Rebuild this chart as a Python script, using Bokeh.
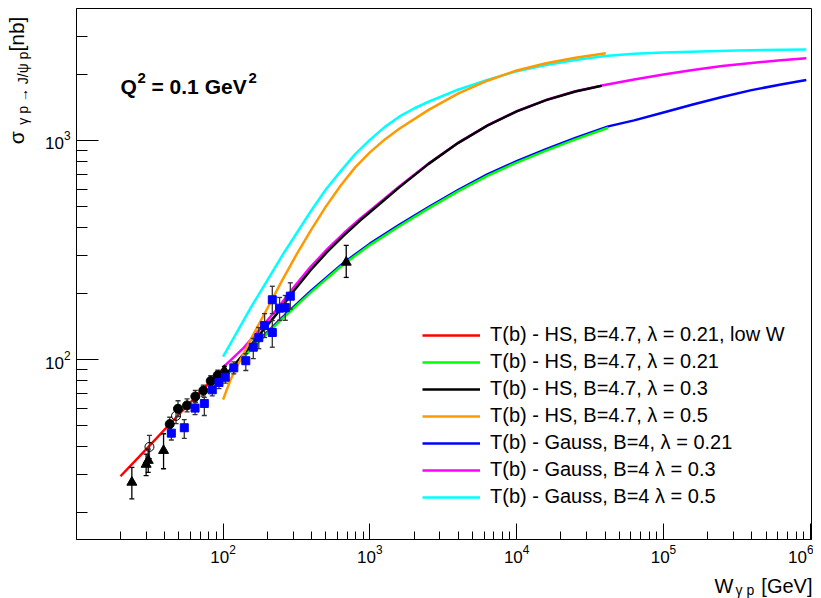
from bokeh.plotting import figure
from bokeh.layouts import row, column
from bokeh.models import Range1d, FixedTicker, Label, Legend, LegendItem
from bokeh.core.properties import value
from bokeh.embed import file_html
from bokeh.resources import INLINE
import math

FONT = "Liberation Sans"

# ---------------- data ----------------
# model curves: W [GeV], sigma [nb]
red_W = [20, 30, 40, 60, 80, 100]
red_s = [29.3, 39.0, 47.9, 63.8, 78.0, 90.5]

green_W = [100, 158, 251, 398, 631, 690, 1000, 1585, 2512, 3981, 6310, 10000, 15850, 25120, 42000]
green_s = [82, 112.7, 153, 203, 265, 278, 333, 406, 490, 586, 690, 793, 899, 1012, 1143]

black_W = [101, 138, 179, 233, 302, 393, 510, 663, 861, 1000, 1585, 2512, 3981, 6310, 10000, 15850, 25120, 38000]
black_s = [83, 106, 131, 162, 205, 255, 309, 368, 432, 470, 611, 782, 973, 1169, 1358, 1528, 1675, 1778]

orange_W = [100, 112, 126, 158, 200, 251, 316, 398, 501, 631, 794, 1000, 1259, 1585, 2512, 3981,
            6310, 10000, 15850, 25120, 40460]
orange_s = [65.6, 80.4, 94.4, 127.4, 171, 228, 301, 391, 499, 622, 754, 883, 1009, 1132, 1380, 1637,
            1875, 2089, 2254, 2388, 2500]

blue_W = [100, 158, 251, 398, 631, 690, 1000, 1585, 2512, 3981, 6310, 10000, 15850, 25120, 42000,
          63100, 100000, 158500, 251200, 398100, 631000, 940000]
blue_s = [83, 114, 155, 206, 269, 282, 338, 412, 497, 594, 700, 805, 912, 1027, 1160,
          1236, 1343, 1459, 1581, 1698, 1803, 1888]

magenta_W = [100, 138, 179, 233, 302, 393, 510, 663, 861, 1000, 1585, 2512, 3981, 6310, 10000, 15850,
             25120, 38000, 63100, 100000, 158500, 251200, 398100, 631000, 940000]
magenta_s = [92, 113, 138, 170, 213, 264, 318, 377, 441, 478, 616, 785, 975, 1171, 1360, 1530,
             1678, 1781, 1901, 2000, 2099, 2188, 2259, 2323, 2377]

cyan_W = [100, 158, 251, 398, 501, 631, 794, 1000, 1259, 1585, 1995, 2512, 3981, 6310, 10000, 15850,
          25120, 39810, 63100, 100000, 316000, 940000]
cyan_s = [103, 177, 296, 478, 597, 723, 867, 1007, 1151, 1285, 1400, 1503, 1706, 1892, 2070, 2213,
          2333, 2432, 2489, 2523, 2576, 2606]

# measurements
tri_W = [23.9, 29.9, 30.9, 39.3, 102, 690]
tri_s = [27.5, 33.2, 34.6, 38.4, 89, 278]
tri_lo = [23.1, 29.5, 30.5, 31.7, 85, 237]
tri_hi = [32.2, 37.0, 39.0, 45.8, 93, 332]

circ_W = [43.3, 49.3, 56.8, 64.7, 73.3, 82.4, 92.0]
circ_s = [50.7, 59.6, 61.7, 67.8, 72.1, 79.8, 84.8]
circ_lo = [47.2, 54.8, 57.6, 63.6, 68.1, 75.5, 80.4]
circ_hi = [54.5, 64.8, 66.1, 72.3, 76.4, 84.4, 89.5]

open_W = [31.5, 47.8]
open_s = [39.9, 55.3]
open_lo = [35.3, 51.0]
open_hi = [45.0, 60.0]

sq_W = [44.4, 54.4, 64.4, 74.5, 84.4, 93.7, 103.5, 118.3, 142.8, 160.6, 175.1, 191.8, 216.4, 216.4, 242.6, 265.3, 287]
sq_s = [46.1, 48.8, 60.0, 63.0, 72.7, 78.5, 83.0, 91.6, 98.7, 113.8, 125.8, 142.9, 132.8, 187.4, 171.5, 172.6, 194.6]
sq_lo = [42.9, 43.6, 56.0, 55.5, 68.2, 73.7, 78.0, 86.0, 89.1, 101, 112, 126, 113.8, 162, 151, 151, 170]
sq_hi = [49.6, 53.2, 64.3, 67.2, 77.5, 83.6, 88.3, 97.5, 106.4, 124.8, 140, 162, 150.6, 216, 192, 196, 224]

legend_labels = [
    "T(b) - HS, B=4.7, \u03bb = 0.21, low W",
    "T(b) - HS, B=4.7, \u03bb = 0.21",
    "T(b) - HS, B=4.7, \u03bb = 0.3",
    "T(b) - HS, B=4.7, \u03bb = 0.5",
    "T(b) - Gauss, B=4, \u03bb = 0.21",
    "T(b) - Gauss, B=4 \u03bb = 0.3",
    "T(b) - Gauss, B=4 \u03bb = 0.5",
]

x_major = [1e2, 1e3, 1e4, 1e5, 1e6]
x_minor = [m * 10 ** k for k in range(1, 6) for m in range(2, 10)]
y_major = [1e2, 1e3]
y_minor = [m * 10 ** k for k in range(1, 4) for m in range(2, 10) if m * 10 ** k < 4000]

# ---------------- layout sizes ----------------
WL = 40            # left title strip
HM = 567           # main row height
HB = 31            # bottom title strip
WTOT = 813

# ---------------- main figure ----------------
p = figure(x_axis_type="log", y_axis_type="log",
           x_range=Range1d(10.03, 1.02e6), y_range=Range1d(15.07, 4006),
           width=WTOT - WL, height=HM,
           min_border_left=76 - WL, min_border_right=2, min_border_top=8,
           min_border_bottom=HM - 8 - 531,
           output_backend="svg", toolbar_location=None)
p.grid.visible = False
p.outline_line_color = "black"
p.outline_line_width = 1
p.background_fill_color = "white"
p.border_fill_color = "white"

p.xaxis.ticker = FixedTicker(ticks=x_major, minor_ticks=x_minor)
p.yaxis.ticker = FixedTicker(ticks=y_major, minor_ticks=y_minor)
for ax in (p.xaxis[0], p.yaxis[0]):
    ax.axis_line_color = "black"
    ax.major_tick_line_color = "black"
    ax.minor_tick_line_color = "black"
    ax.major_tick_out = 0
    ax.minor_tick_out = 0
    ax.major_label_text_font = FONT
    ax.major_label_text_font_size = "17px"
    ax.major_label_text_color = "black"
p.xaxis.major_tick_in = 16
p.xaxis.minor_tick_in = 8
p.yaxis.major_tick_in = 22
p.yaxis.minor_tick_in = 11
p.xaxis.major_label_standoff = 5
p.yaxis.major_label_standoff = 6

LW = 2.5
r_blue = p.line(blue_W, blue_s, line_color="#0000ff", line_width=LW)
r_mag = p.line(magenta_W, magenta_s, line_color="#ff00ff", line_width=LW)
r_cyan = p.line(cyan_W, cyan_s, line_color="#00ffff", line_width=LW)
r_green = p.line(green_W, green_s, line_color="#00ff00", line_width=LW)
r_black = p.line(black_W, black_s, line_color="black", line_width=LW)
r_orange = p.line(orange_W, orange_s, line_color="#ff9900", line_width=LW)
r_red = p.line(red_W, red_s, line_color="#ff0000", line_width=LW)

# error bars
for W, lo, hi, col in ((tri_W, tri_lo, tri_hi, "black"), (circ_W, circ_lo, circ_hi, "#333333"),
                       (open_W, open_lo, open_hi, "#333333"), (sq_W, sq_lo, sq_hi, "#333333")):
    p.segment(x0=W, y0=lo, x1=W, y1=hi, line_color=col, line_width=1.3)
    p.scatter(W, lo, marker="dash", size=5, line_color=col, line_width=1.3)
    p.scatter(W, hi, marker="dash", size=5, line_color=col, line_width=1.3)

p.scatter(tri_W, tri_s, marker="triangle", size=10, fill_color="black", line_color="black")
p.scatter(circ_W, circ_s, marker="circle", size=9, fill_color="black", line_color="black")
p.scatter(open_W, open_s, marker="circle", size=9, fill_color=None, line_color="black", line_width=1)
p.scatter(sq_W, sq_s, marker="square", size=8, fill_color="#0000ff", line_color="#0000ff")

legend = Legend(items=[LegendItem(label=l, renderers=[r]) for l, r in zip(
    legend_labels, [r_red, r_green, r_black, r_orange, r_blue, r_mag, r_cyan])],
    location=(346, 31), orientation="vertical")
legend.border_line_color = None
legend.background_fill_alpha = 0
legend.padding = 0
legend.margin = 0
legend.label_text_font = FONT
legend.label_text_font_size = "20px"
legend.label_text_color = "black"
legend.glyph_width = 58
legend.glyph_height = 20
legend.label_height = 20
legend.label_standoff = 10
legend.spacing = 4
p.add_layout(legend)

# Q^2 text inside the frame (screen units from the frame's bottom-left corner)
def lab(x, y, t, size):
    p.add_layout(Label(x=x, y=y, x_units="screen", y_units="screen", text=t,
                       text_font=FONT, text_font_size=size, text_font_style="bold",
                       text_align="left", text_baseline="alphabetic", text_color="black"))

lab(44, 453, "Q", "21px")
lab(61, 462, "2", "15px")
lab(75, 453, "= 0.1 GeV", "21px")
lab(172, 462, "2", "15px")

# ---------------- title strips ----------------
def strip(w, h):
    f = figure(width=w, height=h, x_range=Range1d(0, w), y_range=Range1d(0, h),
               x_axis_type=None, y_axis_type=None, min_border=0,
               output_backend="svg", toolbar_location=None)
    f.outline_line_color = None
    f.background_fill_color = "white"
    f.border_fill_color = "white"
    return f

def txt(f, x, y, t, size, angle=0.0, align="left"):
    f.text(x=[x], y=[y], text=[t], angle=angle, text_font=value(FONT),
           text_font_size=value(size), text_align=value(align),
           text_baseline=value("alphabetic"), text_color="black")

left = strip(WL, HM)
txt(left, 16, HM - 145, "\u03c3", "21px", angle=math.pi / 2)
txt(left, 22, HM - 124, "\u03b3 p \u2192 J/\u03c8 p", "14px", angle=math.pi / 2)
txt(left, 16, HM - 46, "[nb]", "21px", angle=math.pi / 2)

bottom = strip(WTOT, HB)
# page y -> strip y: HM + HB - page_y
txt(bottom, 714, HM + HB - 585, "W", "20px")
txt(bottom, 735, HM + HB - 589, "\u03b3 p", "14px")
txt(bottom, 812, HM + HB - 585, "[GeV]", "20px", align="right")

layout = column(row(left, p, spacing=0), bottom, spacing=0)

open("out.html", "w").write(file_html(layout, INLINE))
